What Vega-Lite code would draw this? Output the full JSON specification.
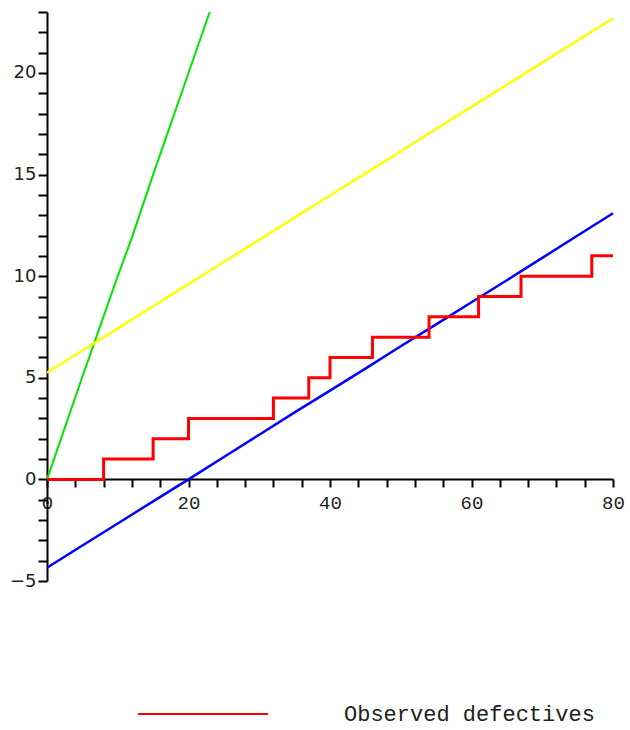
{
  "$schema": "https://vega.github.io/schema/vega-lite/v6.json",
  "width": 566,
  "height": 569,
  "autosize": "none",
  "padding": {"left": 47, "top": 12, "right": 17, "bottom": 149},
  "background": "white",
  "config": {"view": {"stroke": null}},
  "data": {"values": [
    {"s": "red", "x": 0, "y": 0}, {"s": "red", "x": 8, "y": 1}, {"s": "red", "x": 15, "y": 2}, {"s": "red", "x": 20, "y": 3},
    {"s": "red", "x": 32, "y": 4}, {"s": "red", "x": 37, "y": 5}, {"s": "red", "x": 40, "y": 6}, {"s": "red", "x": 46, "y": 7},
    {"s": "red", "x": 54, "y": 8}, {"s": "red", "x": 61, "y": 9}, {"s": "red", "x": 67, "y": 10}, {"s": "red", "x": 77, "y": 11},
    {"s": "red", "x": 80, "y": 11},
    {"s": "green", "x": 0, "y": 0}, {"s": "green", "x": 5, "y": 5.05}, {"s": "green", "x": 10, "y": 10.0}, {"s": "green", "x": 12, "y": 11.9},
    {"s": "green", "x": 15, "y": 15.0}, {"s": "green", "x": 20, "y": 20.0}, {"s": "green", "x": 23, "y": 23.0},
    {"s": "yellow", "x": 0, "y": 5.25}, {"s": "yellow", "x": 5, "y": 6.34}, {"s": "yellow", "x": 10, "y": 7.43}, {"s": "yellow", "x": 15, "y": 8.52},
    {"s": "yellow", "x": 20, "y": 9.61}, {"s": "yellow", "x": 25, "y": 10.7}, {"s": "yellow", "x": 30, "y": 11.79}, {"s": "yellow", "x": 35, "y": 12.88},
    {"s": "yellow", "x": 40, "y": 13.97}, {"s": "yellow", "x": 45, "y": 15.06}, {"s": "yellow", "x": 50, "y": 16.15}, {"s": "yellow", "x": 55, "y": 17.24},
    {"s": "yellow", "x": 60, "y": 18.33}, {"s": "yellow", "x": 65, "y": 19.42}, {"s": "yellow", "x": 70, "y": 20.51}, {"s": "yellow", "x": 75, "y": 21.6},
    {"s": "yellow", "x": 80, "y": 22.69},
    {"s": "blue", "x": 0, "y": -4.35}, {"s": "blue", "x": 5, "y": -3.25}, {"s": "blue", "x": 10, "y": -2.17}, {"s": "blue", "x": 15, "y": -1.08},
    {"s": "blue", "x": 20, "y": 0.0}, {"s": "blue", "x": 25, "y": 1.1}, {"s": "blue", "x": 30, "y": 2.2}, {"s": "blue", "x": 35, "y": 3.3},
    {"s": "blue", "x": 40, "y": 4.37}, {"s": "blue", "x": 45, "y": 5.45}, {"s": "blue", "x": 50, "y": 6.55}, {"s": "blue", "x": 55, "y": 7.63},
    {"s": "blue", "x": 60, "y": 8.72}, {"s": "blue", "x": 65, "y": 9.8}, {"s": "blue", "x": 70, "y": 10.9}, {"s": "blue", "x": 75, "y": 12.0},
    {"s": "blue", "x": 80, "y": 13.1}
  ]},
  "encoding": {
    "x": {"field": "x", "type": "quantitative", "scale": {"domain": [0, 80], "nice": false, "zero": false},
      "axis": {"title": null, "grid": false, "offset": -102, "values": [0,4,8,12,16,20,24,28,32,36,40,44,48,52,56,60,64,68,72,76,80],
        "labelExpr": "datum.value % 20 == 0 ? datum.label : ''", "domainColor": "black", "domainWidth": 2,
        "tickColor": "black", "tickWidth": 2, "tickSize": 8, "labelFont": "Liberation Mono", "labelFontSize": 19,
        "labelColor": "#222", "labelPadding": 6, "labelFlush": false, "labelOverlap": false}},
    "y": {"field": "y", "type": "quantitative", "scale": {"domain": [-5, 23], "nice": false, "zero": false},
      "axis": {"title": null, "grid": false, "values": [-5,-4,-3,-2,-1,0,1,2,3,4,5,6,7,8,9,10,11,12,13,14,15,16,17,18,19,20,21,22,23],
        "labelExpr": "datum.value % 5 == 0 ? datum.label : ''", "domainColor": "black", "domainWidth": 2,
        "tickColor": "black", "tickWidth": 2, "tickSize": 9, "labelFont": "DejaVu Sans", "labelFontSize": 18,
        "labelColor": "#222", "labelPadding": 2, "labelFlush": false, "labelOverlap": false}}
  },
  "layer": [
    {"transform": [{"filter": "datum.s == 'green'"}], "mark": {"type": "line", "color": "#00e600", "strokeWidth": 2}},
    {"transform": [{"filter": "datum.s == 'yellow'"}], "mark": {"type": "line", "color": "#ffff00", "strokeWidth": 2.5}},
    {"transform": [{"filter": "datum.s == 'blue'"}], "mark": {"type": "line", "color": "#0000ff", "strokeWidth": 2.5}},
    {"transform": [{"filter": "datum.s == 'red'"}], "mark": {"type": "line", "interpolate": "step-after", "strokeWidth": 3},
      "encoding": {"color": {"datum": "Observed defectives", "type": "nominal",
        "scale": {"domain": ["Observed defectives"], "range": ["#ff0000"]},
        "legend": {"title": null, "orient": "none", "legendX": 90, "legendY": 636, "symbolType": "stroke",
          "symbolSize": 16900, "symbolStrokeWidth": 2, "labelFont": "Liberation Mono", "labelFontSize": 22,
          "labelColor": "#222", "labelOffset": 75, "labelLimit": 400}}}}
  ]
}
